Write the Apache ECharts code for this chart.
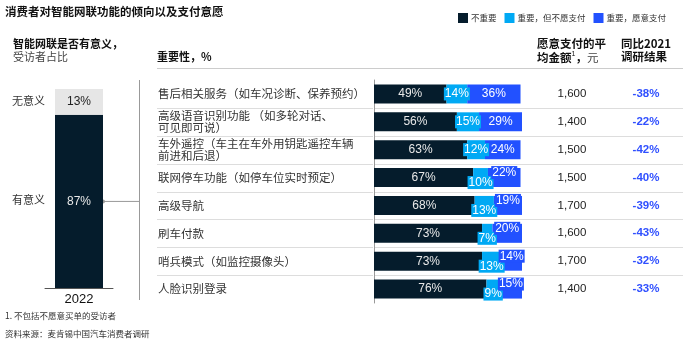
<!DOCTYPE html>
<html><head><meta charset="utf-8">
<script src="https://cdn.jsdelivr.net/npm/echarts@6/dist/echarts.min.js"></script>
<style>html,body{margin:0;padding:0;background:#fff}#c{width:700px;height:345px}</style>
</head><body><div id="c"></div>
<script>
// ---- data ----
const features = [
  '售后相关服务（如车况诊断、保养预约）',
  '高级语音识别功能 （如多轮对话、\n可见即可说）',
  '车外遥控（车主在车外用钥匙遥控车辆\n前进和后退）',
  '联网停车功能（如停车位实时预定）',
  '高级导航',
  '刷车付款',
  '哨兵模式（如监控摄像头）',
  '人脸识别登录'
];
const seriesNames = ['不重要', '重要，但不愿支付', '重要，愿意支付'];
const notImportant   = [49, 56, 63, 67, 68, 73, 73, 76];
const importantNoPay = [14, 15, 12, 10, 13, 7, 13, 9];
const importantPay   = [36, 29, 24, 22, 19, 20, 14, 15];
const avgAmount = [1600, 1400, 1500, 1500, 1700, 1600, 1700, 1400];
const yoyChange = [-38, -22, -42, -40, -39, -43, -32, -33];
const surveyYear = ['2022'];
const meaningfulNames = ['有意义', '无意义'];
const meaningful = [87];
const notMeaningful = [13];

// ---- style ----
const C_DARK = '#051C2C', C_CYAN = '#00A9F4', C_BLUE = '#2251FF', C_GREY = '#E6E6E6';
const CJK = "'Noto Sans CJK SC', sans-serif";
const NUM = "'Liberation Sans', Arial, sans-serif";
const fmtAmt = v => String(v).replace(/\B(?=(\d{3})+(?!\d))/g, ',');

const G = {left: 374, top: 80, width: 148, height: 223};
const L = {left: 45, top: 89, width: 68, height: 199};

function stagger(i) { return importantPay[i] <= 22 || importantNoPay[i] <= 10; }

const chart = echarts.init(document.getElementById('c'), null, {renderer: 'canvas'});
const segLabel = (dySign) => (v, i) => ({
  value: v,
  label: {offset: [0, stagger(i) ? dySign * 5 : 0]}
});

const option = {
  animation: false,
  textStyle: {fontFamily: CJK},
  legend: {
    data: seriesNames, left: 453, top: 8, icon: 'rect', itemWidth: 10, itemHeight: 10, itemGap: 8,
    textStyle: {fontSize: 8.5, color: '#333', fontFamily: CJK, padding: [0, 0, 0, -2]}
  },
  grid: [
    {left: G.left, top: G.top, width: G.width, height: G.height},
    {left: L.left, top: L.top, width: L.width, height: L.height}
  ],
  xAxis: [
    {type: 'value', gridIndex: 0, min: 0, max: 100, show: false},
    {type: 'category', gridIndex: 1, data: surveyYear,
     axisLine: {lineStyle: {color: '#555', width: 1}}, axisTick: {show: false},
     axisLabel: {fontSize: 13, color: '#111', margin: 5, fontFamily: NUM}}
  ],
  yAxis: [
    {type: 'category', gridIndex: 0, data: features, inverse: true,
     axisLine: {show: true, lineStyle: {color: '#999'}}, axisTick: {show: false},
     axisLabel: {align: 'left', margin: G.left - 158, fontSize: 11.5, color: '#333', lineHeight: 12, fontFamily: CJK}},
    {type: 'category', gridIndex: 0, data: features, inverse: true, position: 'right',
     axisLine: {show: false}, axisTick: {show: false},
     axisLabel: {align: 'left', margin: 20,
       formatter: (v, i) => `{a|${fmtAmt(avgAmount[i])}}{b|${yoyChange[i]}%}`,
       rich: {
         a: {width: 60, align: 'center', fontSize: 11.5, color: '#222', fontFamily: NUM},
         b: {width: 88, align: 'center', fontSize: 11.5, fontWeight: 'bold', color: '#3050FF', fontFamily: NUM}
       }}},
    {type: 'value', gridIndex: 1, min: 0, max: 100, show: false}
  ],
  series: [
    {name: seriesNames[0], type: 'bar', stack: 'imp', xAxisIndex: 0, yAxisIndex: 0, barWidth: 19,
     itemStyle: {color: C_DARK}, data: notImportant,
     label: {show: true, position: 'inside', formatter: '{c}%', color: '#e8e8e8', fontSize: 12, fontFamily: NUM}},
    {name: seriesNames[1], type: 'bar', stack: 'imp', xAxisIndex: 0, yAxisIndex: 0, barWidth: 19,
     itemStyle: {color: C_CYAN}, data: importantNoPay.map(segLabel(1)),
     label: {show: true, position: 'inside', formatter: '{c}%', color: '#fff', fontSize: 12, fontFamily: NUM,
             backgroundColor: C_CYAN, padding: [1, 1, 0, 1]}},
    {name: seriesNames[2], type: 'bar', stack: 'imp', xAxisIndex: 0, yAxisIndex: 0, barWidth: 19,
     itemStyle: {color: C_BLUE}, data: importantPay.map(segLabel(-1)),
     label: {show: true, position: 'inside', formatter: '{c}%', color: '#fff', fontSize: 12, fontFamily: NUM,
             backgroundColor: C_BLUE, padding: [1, 1, 0, 1]}},
    {name: meaningfulNames[0], type: 'bar', stack: 'm', xAxisIndex: 1, yAxisIndex: 2, barWidth: 48,
     itemStyle: {color: C_DARK}, data: meaningful,
     label: {show: true, position: 'inside', formatter: '{c}%', color: '#e8e8e8', fontSize: 12, fontFamily: NUM}},
    {name: meaningfulNames[1], type: 'bar', stack: 'm', xAxisIndex: 1, yAxisIndex: 2, barWidth: 48,
     itemStyle: {color: C_GREY}, data: notMeaningful,
     label: {show: true, position: 'inside', formatter: '{c}%', color: '#222', fontSize: 12, fontFamily: NUM}}
  ]
};
chart.setOption(option);

// ---- decorations ----
const g = [];
const txt = (x, y, s, st) => g.push({type: 'text', left: x, top: y, style: Object.assign({text: s, fontSize: 11, fill: '#222', fontFamily: CJK}, st || {})});
const line = (x1, y1, x2, y2, col) => g.push({type: 'line', shape: {x1, y1, x2, y2}, style: {stroke: col || '#ddd', lineWidth: 1}, silent: true});

txt(5, 6, '消费者对智能网联功能的倾向以及支付意愿', {fontSize: 11.5, fontWeight: 'bold', fill: '#111'});
txt(13, 38, '智能网联是否有意义，', {fontWeight: 'bold', fill: '#111'});
txt(13, 51, '受访者占比', {fill: '#444'});
txt(157, 51, '重要性，%', {fontWeight: 'bold', fill: '#111'});
txt(537, 38, '愿意支付的平', {fontSize: 11.5, fontWeight: 'bold', fill: '#111'});
g.push({type: 'text', left: 537, top: 51, style: {
  text: '{b|均金额}{s|1}{b|，}{n|元}', rich: {
    b: {fontSize: 11.5, fontWeight: 'bold', fill: '#111', fontFamily: CJK},
    s: {fontSize: 7, fill: '#111', fontFamily: NUM, verticalAlign: 'top', padding: [0, 0, 6, 0]},
    n: {fontSize: 11.5, fill: '#444', fontFamily: CJK}
  }}});
txt(621, 38, '同比2021', {fontSize: 11.5, fontWeight: 'bold', fill: '#111'});
txt(621, 51, '调研结果', {fontSize: 11.5, fontWeight: 'bold', fill: '#111'});
line(157, 68.5, 683, 68.5, '#ccc');

const band = G.height / features.length;
for (let i = 1; i < features.length; i++) {
  const y = Math.round(G.top + i * band) + 0.5;
  line(157, y, G.left - 1, y, '#ddd');
  line(G.left + 1, y, 683, y, '#ddd');
}

// left panel labels
const pMean = chart.convertToPixel({xAxisIndex: 1, yAxisIndex: 2}, [0, meaningful[0] / 2]);
const pNot = chart.convertToPixel({xAxisIndex: 1, yAxisIndex: 2}, [0, meaningful[0] + notMeaningful[0] / 2]);
txt(12, pNot[1] - 7, '无意义', {fill: '#333'});
txt(12, pMean[1] - 7, '有意义', {fill: '#333'});
const barRight = pMean[0] + 24;
line(barRight, pMean[1], 139.5, pMean[1], '#999');
line(139.5, 80, 139.5, 300, '#999');
g.push({type: 'circle', shape: {cx: barRight, cy: pMean[1], r: 2}, style: {fill: '#999'}});

txt(5, 312, '1. 不包括不愿意买单的受访者', {fontSize: 8.5, fill: '#333'});
txt(5, 330, '资料来源：麦肯锡中国汽车消费者调研', {fontSize: 8.5, fill: '#333'});

chart.setOption({graphic: g});
</script>
</body></html>
